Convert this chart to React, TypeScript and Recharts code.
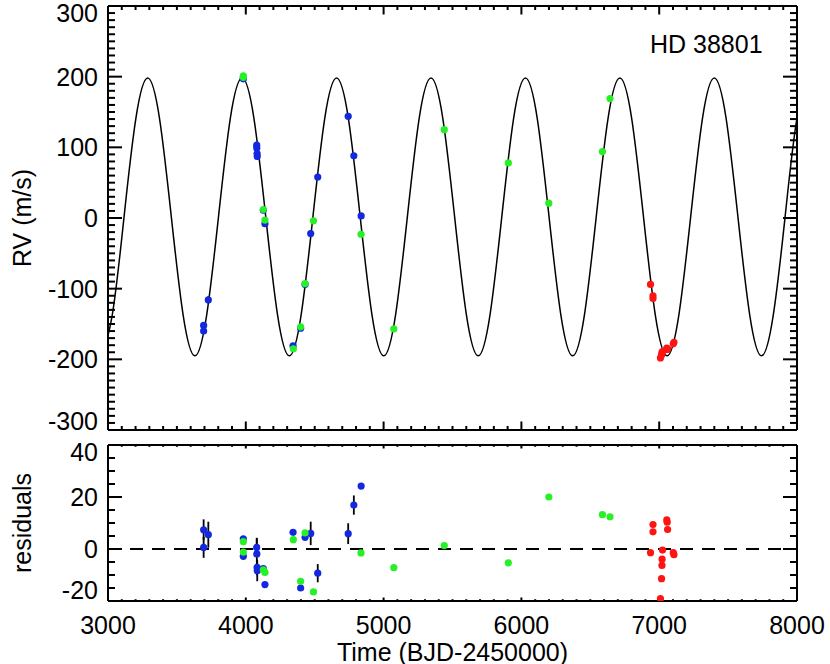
import React from "react";
import { ComposedChart, ErrorBar, Line, ReferenceLine, Scatter, XAxis, YAxis } from "recharts";

// Keplerian model at every 1/8 of a period
const modelTime = [
  2945.4, 3031.0, 3116.7, 3202.3, 3288.0, 3373.7, 3459.3, 3545.0, 3630.7, 3716.3, 3802.0,
  3887.6, 3973.3, 4059.0, 4144.6, 4230.3, 4316.0, 4401.6, 4487.3, 4572.9, 4658.6, 4744.3,
  4829.9, 4915.6, 5001.3, 5086.9, 5172.6, 5258.2, 5343.9, 5429.6, 5515.2, 5600.9, 5686.6,
  5772.2, 5857.9, 5943.5, 6029.2, 6114.9, 6200.5, 6286.2, 6371.9, 6457.5, 6543.2, 6628.8,
  6714.5, 6800.2, 6885.8, 6971.5, 7057.2, 7142.8, 7228.5, 7314.1, 7399.8, 7485.5, 7571.1,
  7656.8, 7742.5, 7828.1, 7913.8, 7999.4, 8085.1,
];
const modelRv = [
  -195, -137, 2, 141, 198, 141, 2, -137, -195, -137, 2, 141, 198, 141, 2, -137,
  -195, -137, 2, 141, 198, 141, 2, -137, -195, -137, 2, 141, 198, 141, 2, -137,
  -195, -137, 2, 141, 198, 141, 2, -137, -195, -137, 2, 141, 198, 141, 2, -137,
  -195, -137, 2, 141, 198, 141, 2, -137, -195, -137, 2, 141, 198,
];

// blue instrument
const blueTime = [3694, 3694, 3728, 3982, 3982, 4079, 4080, 4082, 4083, 4127, 4139, 4343, 4398, 4430, 4471, 4522, 4743, 4784, 4837];
const blueRv = [-152, -160, -116, 198, 197, 103, 99, 91, 87, 11, -8, -181, -156, -94, -22, 58, 144, 88, 3];
const blueRes = [7.4, 0.6, 5.5, 3.9, -2.8, 0.6, -1.9, -7.1, -8.4, -7.5, -13.7, 6.4, -15, 4.5, 6.0, -9.3, 5.9, 16.9, 24.2];
const blueErr = [4, 4, 5, 1, 1, 3.5, 6.2, 3, 4, 1, 1, 1, 1, 1, 4.5, 3.5, 4, 3.7, 1];

// green instrument
const greenTime = [3982, 3982, 4127, 4139, 4345, 4398, 4430, 4491, 4836, 5074, 5440, 5905, 6199, 6588, 6643];
const greenRv = [201, 199, 12, -3, -185, -154, -93, -4, -23, -157, 125, 78, 21, 94, 169];
const greenRes = [2.8, -1.2, -8.0, -9.0, 3.6, -12.4, 6.2, -16.5, -1.5, -7.2, 1.3, -5.3, 20, 13.2, 12.4];
const greenErr = [1, 1, 1, 1, 1, 1, 1, 1, 1, 1, 1, 1, 1, 1, 1];

// red instrument
const redTime = [6937, 6955, 6955, 7009, 7017, 7020, 7021, 7024, 7055, 7058, 7061, 7102, 7107];
const redRv = [-94, -110, -114, -198, -194, -192, -190, -189, -184, -186, -185, -178, -176];
const redRes = [-1.4, 9.4, 6.6, -19.1, -11.4, -6.3, -3.9, -0.4, 11.2, 10.3, 7.5, -1.4, -2.2];
const redErr = [1, 1, 1, 1, 1, 1, 1, 1, 1, 1, 1, 1, 1];

// axes
const xMajors = [3000, 4000, 5000, 6000, 7000, 8000];
const rvMajors = [-300, -200, -100, 0, 100, 200, 300];
const resMajors = [-20, 0, 20, 40];

const FONT = '"Liberation Sans", Arial, Helvetica, sans-serif';
const BLUE = "#1428e0";
const GREEN = "#26f026";
const RED = "#ff1414";

const steps = (a: number, b: number, s: number) => {
  const out: number[] = [];
  for (let v = a; v <= b + 1e-6; v += s) out.push(Math.round(v * 100) / 100);
  return out;
};
const xTicks = steps(3000, 8000, 100);
const rvTicks = steps(-300, 300, 10);
const resTicks = steps(-20, 40, 5);

type Pt = { t: number; v: number; e?: number };
const pts = (t: number[], v: number[], e: number[]): Pt[] => t.map((tt, i) => ({ t: tt, v: v[i], e: e[i] }));
const model = modelTime.map((t, i) => ({ t, v: modelRv[i] }));

// tick labels only; the tick marks are drawn as inward strokes below
function labelRenderer(side: "left" | "bottom", majors: number[], nudge: Record<number, number> = {}) {
  return (p: any) => {
    const x = Number(p.x);
    const y = Number(p.y);
    const v = p.payload.value;
    if (!majors.includes(v)) return <g />;
    if (side === "left") {
      return (
        <text x={x - 10} y={y + 9 + (nudge[v] ?? 0)} textAnchor="end" fontSize={25} fontFamily={FONT} fill="#000">
          {String(v)}
        </text>
      );
    }
    return (
      <text x={x} y={y + 33} textAnchor="middle" fontSize={25} fontFamily={FONT} fill="#000">
        {String(v)}
      </text>
    );
  };
}

// inward tick mark drawn at a point placed on the frame through the chart scales
function tickMark(dir: "up" | "down" | "left" | "right", len: number) {
  return (p: any) => {
    const { cx, cy } = p;
    let x2 = cx;
    let y2 = cy;
    if (dir === "up") y2 = cy - len;
    if (dir === "down") y2 = cy + len;
    if (dir === "left") x2 = cx - len;
    if (dir === "right") x2 = cx + len;
    return <line x1={cx} y1={cy} x2={x2} y2={y2} stroke="#000" strokeWidth={2} />;
  };
}

const axisLine = { stroke: "#000", strokeWidth: 2 };

const dot = (color: string) => (p: any) => <circle cx={p.cx} cy={p.cy} r={3.6} fill={color} />;
const none = () => <g />;

function frameTicks(yMin: number, yMax: number, yTicks: number[], yMajors: number[], xMajorLen: number, xMinorLen: number) {
  const xMinors = xTicks.filter((t) => !xMajors.includes(t));
  const yMinors = yTicks.filter((v) => !yMajors.includes(v));
  const sets: [string, Pt[], "up" | "down" | "left" | "right", number][] = [
    ["bM", xMajors.map((t) => ({ t, v: yMin })), "up", xMajorLen],
    ["bm", xMinors.map((t) => ({ t, v: yMin })), "up", xMinorLen],
    ["tM", xMajors.map((t) => ({ t, v: yMax })), "down", xMajorLen],
    ["tm", xMinors.map((t) => ({ t, v: yMax })), "down", xMinorLen],
    ["lM", yMajors.map((v) => ({ t: 3000, v })), "right", 14],
    ["lm", yMinors.map((v) => ({ t: 3000, v })), "right", 7],
    ["rM", yMajors.map((v) => ({ t: 8000, v })), "left", 14],
    ["rm", yMinors.map((v) => ({ t: 8000, v })), "left", 7],
  ];
  return sets.map(([k, data, dir, len]) => (
    <Scatter key={k} xAxisId="b" yAxisId="l" data={data} shape={tickMark(dir, len)} isAnimationActive={false} />
  ));
}

function series(data: Pt[], color: string, k: string) {
  return <Scatter key={k} xAxisId="b" yAxisId="l" data={data} shape={dot(color)} isAnimationActive={false} />;
}

function errBars(data: Pt[], k: string) {
  return (
    <Scatter key={k} xAxisId="b" yAxisId="l" data={data} shape={none} isAnimationActive={false}>
      <ErrorBar dataKey="e" direction="y" width={0} stroke="#000" strokeWidth={1.8} isAnimationActive={false} />
    </Scatter>
  );
}

function axes(bottomH: number, topH: number, domain: [number, number], yTicks: number[], yMajors: number[], nudge: Record<number, number>, xLabels: boolean) {
  return [
    <XAxis
      key="xb"
      xAxisId="b"
      dataKey="t"
      type="number"
      domain={[3000, 8000]}
      allowDataOverflow
      ticks={xTicks}
      interval={0}
      tickSize={0}
      tickMargin={0}
      height={bottomH}
      axisLine={axisLine}
      tickLine={false}
      tick={xLabels ? labelRenderer("bottom", xMajors) : false}
    />,
    <XAxis key="xt" xAxisId="t" orientation="top" type="number" domain={[3000, 8000]} allowDataOverflow height={topH} axisLine={axisLine} tickLine={false} tick={false} />,
    <YAxis
      key="yl"
      yAxisId="l"
      dataKey="v"
      type="number"
      domain={domain}
      allowDataOverflow
      ticks={yTicks}
      interval={0}
      tickSize={0}
      tickMargin={0}
      width={108}
      axisLine={axisLine}
      tickLine={false}
      tick={labelRenderer("left", yMajors, nudge)}
    />,
    <YAxis key="yr" yAxisId="r" orientation="right" type="number" domain={domain} allowDataOverflow width={33} axisLine={axisLine} tickLine={false} tick={false} />,
  ];
}

export default function App() {
  const blueTop = pts(blueTime, blueRv, blueErr);
  const greenTop = pts(greenTime, greenRv, greenErr);
  const redTop = pts(redTime, redRv, redErr);
  const blueBot = pts(blueTime, blueRes, blueErr);
  const greenBot = pts(greenTime, greenRes, greenErr);
  const redBot = pts(redTime, redRes, redErr);

  return (
    <div style={{ position: "absolute", left: 0, top: 0, width: 830, height: 664, background: "#fff" }}>
      <div style={{ position: "absolute", left: 0, top: 0 }}>
        <ComposedChart width={830} height={440} margin={{ top: 0, right: 0, bottom: 0, left: 0 }}>
          {axes(10, 6, [-300, 300], rvTicks, rvMajors, { 300: 7, [-300]: -9 }, false)}
          {frameTicks(-300, 300, rvTicks, rvMajors, 8.5, 4)}
          <Line
            xAxisId="b"
            yAxisId="l"
            data={model}
            dataKey="v"
            type="natural"
            stroke="#000"
            strokeWidth={1.5}
            dot={false}
            isAnimationActive={false}
          />
          {series(blueTop, BLUE, "sb")}
          {series(greenTop, GREEN, "sg")}
          {series(redTop, RED, "sr")}
          {errBars(blueTop, "eb")}
          {errBars(greenTop, "eg")}
          {errBars(redTop, "er")}
        </ComposedChart>
      </div>
      <div style={{ position: "absolute", left: 0, top: 440 }}>
        <ComposedChart width={830} height={224} margin={{ top: 0, right: 0, bottom: 0, left: 0 }}>
          {axes(63, 5, [-20, 40], resTicks, resMajors, { 40: 7, [-20]: -11 }, true)}
          {frameTicks(-20, 40, resTicks, resMajors, 3.5, 1.8)}
          <ReferenceLine xAxisId="b" yAxisId="l" y={0} stroke="#000" strokeWidth={2} strokeDasharray="13 9" />
          {series(blueBot, BLUE, "rb")}
          {series(greenBot, GREEN, "rg")}
          {series(redBot, RED, "rr")}
          {errBars(blueBot, "qb")}
          {errBars(greenBot, "qg")}
          {errBars(redBot, "qr")}
        </ComposedChart>
      </div>
      <svg
        width={830}
        height={664}
        style={{ position: "absolute", left: 0, top: 0, pointerEvents: "none" }}
        fontFamily={FONT}
        fontSize={25}
      >
        <text x={650} y={53} fill="#000">HD 38801</text>
        <text transform="translate(31,218) rotate(-90)" textAnchor="middle" fill="#000">RV (m/s)</text>
        <text transform="translate(31,523) rotate(-90)" textAnchor="middle" fill="#000">residuals</text>
        <text x={452.5} y={661} textAnchor="middle" fill="#000">Time (BJD-2450000)</text>
      </svg>
    </div>
  );
}
